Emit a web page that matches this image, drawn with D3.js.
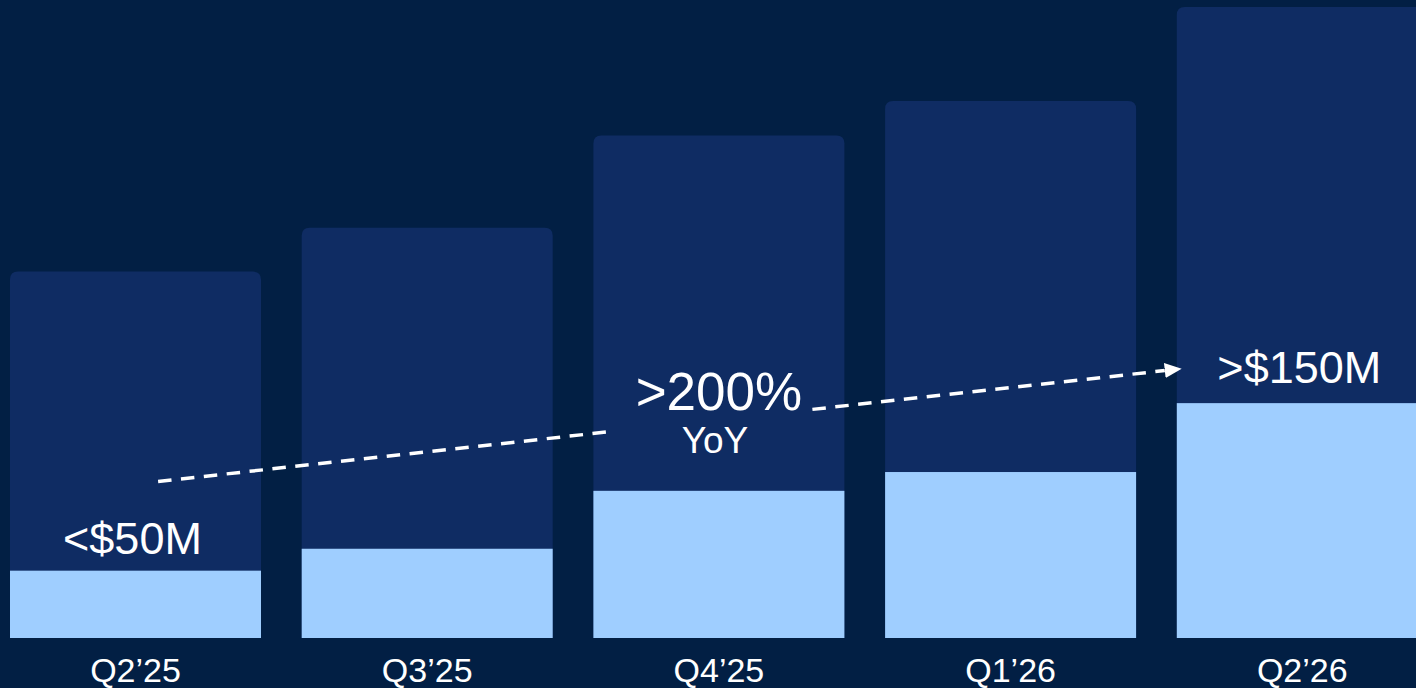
<!DOCTYPE html>
<html>
<head>
<meta charset="utf-8">
<script src="https://cdn.jsdelivr.net/npm/d3@7"></script>
<style>
  html, body { margin: 0; padding: 0; background: #021f44; }
  svg { display: block; }
</style>
</head>
<body>
<div id="chart"></div>
<script>
// Quarter labels and stacked bar values (arbitrary units)
const categories = ["Q2\u201925", "Q3\u201925", "Q4\u201925", "Q1\u201926", "Q2\u201926"];
const revenue = [43, 57, 94, 106, 150];   // light blue part
const totals = [234, 262, 321, 343, 403]; // full bar height

// Annotation text
const startLabel = "<$50M";
const endLabel = ">$150M";
const growthLabel = ">200%";
const growthSub = "YoY";

// Arrow values (in y units), start and end of the dashed trend
const arrowValues = [100, 172];

const width = 1416;
const height = 688;
const baseline = 638;
const font = "'Liberation Sans', Arial, sans-serif";

const svg = d3.select("#chart")
  .append("svg")
  .attr("width", width)
  .attr("height", height);

svg.append("rect")
  .attr("width", width)
  .attr("height", height)
  .attr("fill", "#021f44");

const x = d3.scaleBand()
  .domain(categories)
  .range([10, 10 + 4 * 291.7 + 251])
  .paddingInner(40.7 / 291.7)
  .paddingOuter(0);

const y = d3.scaleLinear()
  .domain([0, 403])
  .range([baseline, 7]);

const bw = x.bandwidth();
const r = 8;

// Top rounded corners only
const topRounded = (x0, y0, w, h) =>
  `M${x0},${y0 + h}V${y0 + r}Q${x0},${y0} ${x0 + r},${y0}H${x0 + w - r}Q${x0 + w},${y0} ${x0 + w},${y0 + r}V${y0 + h}Z`;

const data = categories.map((c, i) => ({ c, rev: revenue[i], total: totals[i] }));

svg.append("g")
  .selectAll("path")
  .data(data)
  .join("path")
  .attr("fill", "#0f2c63")
  .attr("d", (d) => topRounded(x(d.c), y(d.total), bw, baseline - y(d.total)));

svg.append("g")
  .selectAll("rect")
  .data(data)
  .join("rect")
  .attr("fill", "#9fceff")
  .attr("x", (d) => x(d.c))
  .attr("y", (d) => y(d.rev))
  .attr("width", bw)
  .attr("height", (d) => baseline - y(d.rev));

// Category labels under the bars
svg.append("g")
  .selectAll("text")
  .data(categories)
  .join("text")
  .attr("x", (d) => x(d) + bw / 2)
  .attr("y", 682)
  .attr("text-anchor", "middle")
  .attr("font-family", font)
  .attr("font-size", 34)
  .attr("fill", "#ffffff")
  .text((d) => d);

// Dashed trend arrow, broken around the growth label
const first = categories[0];
const last = categories[categories.length - 1];
const x0 = x(first) + bw * 0.59;
const x1 = x(last) + 5;
const y0 = y(arrowValues[0]);
const y1 = y(arrowValues[1]);
const at = (px) => y0 + (y1 - y0) * (px - x0) / (x1 - x0);

const gapStart = x(categories[2]) + 20;
const gapEnd = x(categories[2]) + 219;

svg.append("defs")
  .append("marker")
  .attr("id", "arrow")
  .attr("viewBox", "0 0 17 15")
  .attr("refX", 0)
  .attr("refY", 7.5)
  .attr("markerWidth", 17)
  .attr("markerHeight", 15)
  .attr("markerUnits", "userSpaceOnUse")
  .attr("orient", "auto")
  .append("path")
  .attr("d", "M0,0L17,7.5L0,15Z")
  .attr("fill", "#ffffff");

const dashed = svg.append("g")
  .attr("stroke", "#ffffff")
  .attr("stroke-width", 3.5)
  .attr("stroke-dasharray", "13.5 9.5")
  .attr("fill", "none");

dashed.append("line")
  .attr("x1", x0).attr("y1", at(x0))
  .attr("x2", gapStart).attr("y2", at(gapStart));

dashed.append("line")
  .attr("x1", gapEnd).attr("y1", at(gapEnd))
  .attr("x2", x1 - 17).attr("y2", at(x1 - 17))
  .attr("marker-end", "url(#arrow)");

svg.append("text")
  .attr("x", x(first) + bw / 2 - 3)
  .attr("y", y(revenue[0]) - 17)
  .attr("text-anchor", "middle")
  .attr("font-family", font)
  .attr("font-size", 45)
  .attr("fill", "#ffffff")
  .text(startLabel);

svg.append("text")
  .attr("x", x(last) + bw / 2 - 3)
  .attr("y", y(revenue[4]) - 20)
  .attr("text-anchor", "middle")
  .attr("font-family", font)
  .attr("font-size", 45)
  .attr("fill", "#ffffff")
  .text(endLabel);

svg.append("text")
  .attr("x", x(categories[2]) + bw / 2)
  .attr("y", 410)
  .attr("text-anchor", "middle")
  .attr("font-family", font)
  .attr("font-size", 53)
  .attr("fill", "#ffffff")
  .text(growthLabel);

svg.append("text")
  .attr("x", x(categories[2]) + bw / 2 - 4)
  .attr("y", 453)
  .attr("text-anchor", "middle")
  .attr("font-family", font)
  .attr("font-size", 37)
  .attr("fill", "#ffffff")
  .text(growthSub);
</script>
</body>
</html>
